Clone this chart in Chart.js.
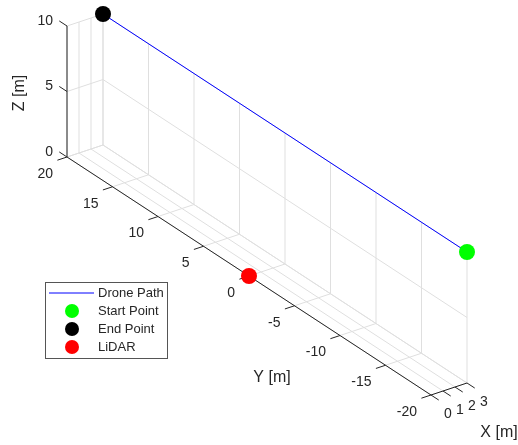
<!DOCTYPE html>
<html>
<head>
<meta charset="utf-8">
<script src="https://cdn.jsdelivr.net/npm/chart.js@4.4.1/dist/chart.umd.min.js"></script>
<style>
html, body { margin: 0; padding: 0; background: #fff; }
#wrap { width: 518px; height: 445px; }
</style>
</head>
<body>
<div id="wrap"><canvas id="droneChart" width="518" height="445"></canvas></div>
<script>
// drone path (x, y, z in metres)
const pathX = [3, 3];
const pathY = [-20, 20];
const pathZ = [10, 10];
const lidarPos = [0, 0, 0];

// axis ticks
const xTicks = [0, 1, 2, 3];
const yTicks = [-20, -15, -10, -5, 0, 5, 10, 15, 20];
const zTicks = [0, 5, 10];

const seriesNames = ['Drone Path', 'Start Point', 'End Point', 'LiDAR'];
const seriesColors = ['#0000ff', '#00ff00', '#000000', '#ff0000'];

const FAMILY = '"Liberation Sans", Arial, Helvetica, sans-serif';
const TEXT = '#262626';

// simple orthographic view: screen position of the origin and of each unit vector
const view = { ox: 249, oy: 276, ex: [12, -4], ey: [-9.1, -5.95], ez: [0, -13.1] };

function proj(x, y, z) {
    return {
        x: view.ox + x * view.ex[0] + y * view.ey[0] + z * view.ez[0],
        y: view.oy + x * view.ex[1] + y * view.ey[1] + z * view.ez[1]
    };
}

const xMin = Math.min(...xTicks), xMax = Math.max(...xTicks);
const yMin = Math.min(...yTicks), yMax = Math.max(...yTicks);
const zMin = Math.min(...zTicks), zMax = Math.max(...zTicks);

const last = pathX.length - 1;
const pathPts = pathX.map((x, i) => proj(x, pathY[i], pathZ[i]));

function toPx(chart, p) {
    return [chart.scales.x.getPixelForValue(p.x), chart.scales.y.getPixelForValue(p.y)];
}

function seg(chart, ctx, a, b) {
    const p = toPx(chart, proj(a[0], a[1], a[2]));
    const q = toPx(chart, proj(b[0], b[1], b[2]));
    ctx.beginPath();
    ctx.moveTo(p[0], p[1]);
    ctx.lineTo(q[0], q[1]);
    ctx.stroke();
}

function label(chart, ctx, pt, dx, dy, txt, align) {
    const p = toPx(chart, proj(pt[0], pt[1], pt[2]));
    ctx.textAlign = align;
    ctx.fillText(txt, p[0] + dx, p[1] + dy);
}

// grid, axes, ticks and labels of the 3D box
const boxPlugin = {
    id: 'box3d',
    beforeDatasetsDraw(chart) {
        const ctx = chart.ctx;
        ctx.save();
        ctx.lineWidth = 1;
        ctx.strokeStyle = '#dfdfdf';

        // floor
        xTicks.forEach(x => seg(chart, ctx, [x, yMin, zMin], [x, yMax, zMin]));
        yTicks.forEach(y => seg(chart, ctx, [xMin, y, zMin], [xMax, y, zMin]));
        // back wall x = max
        yTicks.forEach(y => seg(chart, ctx, [xMax, y, zMin], [xMax, y, zMax]));
        zTicks.forEach(z => seg(chart, ctx, [xMax, yMin, z], [xMax, yMax, z]));
        // side wall y = max
        xTicks.forEach(x => seg(chart, ctx, [x, yMax, zMin], [x, yMax, zMax]));
        zTicks.forEach(z => seg(chart, ctx, [xMin, yMax, z], [xMax, yMax, z]));

        // axis lines
        ctx.strokeStyle = TEXT;
        seg(chart, ctx, [xMin, yMax, zMin], [xMin, yMax, zMax]);
        seg(chart, ctx, [xMin, yMin, zMin], [xMin, yMax, zMin]);
        seg(chart, ctx, [xMin, yMin, zMin], [xMax, yMin, zMin]);

        // tick marks
        zTicks.forEach(z => seg(chart, ctx, [xMin, yMax, z], [xMin, yMax + 0.85, z]));
        yTicks.forEach(y => seg(chart, ctx, [xMin, y, zMin], [xMin - 0.8, y, zMin]));
        xTicks.forEach(x => seg(chart, ctx, [x, yMin, zMin], [x, yMin - 0.85, zMin]));

        // tick labels
        ctx.fillStyle = TEXT;
        ctx.font = '14px ' + FAMILY;
        ctx.textBaseline = 'middle';
        zTicks.forEach(z => label(chart, ctx, [xMin, yMax, z], -14, -5, String(z), 'right'));
        yTicks.forEach(y => label(chart, ctx, [xMin, y, zMin], -14, 17, String(y), 'right'));
        xTicks.forEach(x => label(chart, ctx, [x, yMin, zMin], 17, 19, String(x), 'center'));

        // axis titles
        ctx.font = '16px ' + FAMILY;
        ctx.textAlign = 'center';
        ctx.fillText('Y [m]', 272, 378);
        ctx.fillText('X [m]', 499, 433);
        ctx.translate(20, 93);
        ctx.rotate(-Math.PI / 2);
        ctx.fillText('Z [m]', 0, 0);
        ctx.restore();
    },
    afterDraw(chart) {
        // legend box (matlab style, lower left)
        const ctx = chart.ctx;
        const ds = chart.data.datasets;
        ctx.save();
        ctx.fillStyle = '#fff';
        ctx.fillRect(46, 282, 122, 76);
        ctx.strokeStyle = '#555';
        ctx.lineWidth = 1;
        ctx.strokeRect(45.5, 282.5, 122, 76);
        ctx.font = '13px ' + FAMILY;
        ctx.textBaseline = 'middle';
        ctx.textAlign = 'left';
        ds.forEach((d, i) => {
            const yy = 293 + i * 18;
            if (d.showLine) {
                ctx.strokeStyle = d.borderColor;
                ctx.beginPath();
                ctx.moveTo(49, yy);
                ctx.lineTo(94, yy);
                ctx.stroke();
            } else {
                ctx.fillStyle = d.backgroundColor;
                ctx.beginPath();
                ctx.arc(72, yy, 7, 0, Math.PI * 2);
                ctx.fill();
            }
            ctx.fillStyle = TEXT;
            ctx.fillText(d.label, 98, yy);
        });
        ctx.restore();
    }
};

const droneChart = new Chart(document.getElementById('droneChart').getContext('2d'), {
    type: 'scatter',
    data: {
        datasets: [
            {
                label: seriesNames[0],
                data: pathPts,
                showLine: true,
                borderColor: seriesColors[0],
                borderWidth: 1,
                pointRadius: 0,
                order: 2
            },
            {
                label: seriesNames[1],
                data: [pathPts[0]],
                backgroundColor: seriesColors[1],
                borderWidth: 0,
                pointRadius: 8,
                order: 1
            },
            {
                label: seriesNames[2],
                data: [pathPts[last]],
                backgroundColor: seriesColors[2],
                borderWidth: 0,
                pointRadius: 8,
                order: 1
            },
            {
                label: seriesNames[3],
                data: [proj(lidarPos[0], lidarPos[1], lidarPos[2])],
                backgroundColor: seriesColors[3],
                borderWidth: 0,
                pointRadius: 8,
                order: 1
            }
        ]
    },
    options: {
        responsive: false,
        animation: false,
        layout: { padding: 0, autoPadding: false },
        plugins: {
            legend: { display: false },
            tooltip: { enabled: false }
        },
        scales: {
            x: { type: 'linear', min: 0, max: 518, display: false },
            y: { type: 'linear', min: 0, max: 445, reverse: true, display: false }
        }
    },
    plugins: [boxPlugin]
});
</script>
</body>
</html>
